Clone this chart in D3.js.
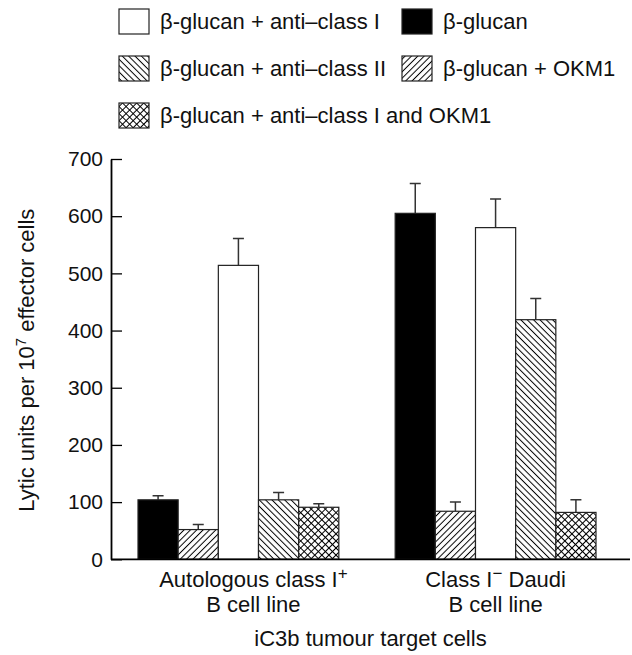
<!DOCTYPE html>
<html>
<head>
<meta charset="utf-8">
<script src="https://cdn.jsdelivr.net/npm/d3@7"></script>
<style>
  body { margin: 0; background: #fff; }
  svg { display: block; }
</style>
</head>
<body>
<svg id="chart" width="632" height="655"></svg>
<script>
////////// Data //////////
const groups = ['autologous', 'daudi'];
const series = ['glucan', 'okm1', 'antiClassI', 'antiClassII', 'antiClassIandOkm1'];
const seriesNames = {
	glucan: 'β-glucan',
	okm1: 'β-glucan + OKM1',
	antiClassI: 'β-glucan + anti–class I',
	antiClassII: 'β-glucan + anti–class II',
	antiClassIandOkm1: 'β-glucan + anti–class I and OKM1'
};
const autologousValues = [104, 52, 514, 104, 91];
const autologousErrors = [7, 9, 47, 13, 6];
const daudiValues = [605, 84, 580, 419, 82];
const daudiErrors = [52, 16, 50, 37, 22];
const yTicks = [0, 100, 200, 300, 400, 500, 600, 700];
// legend reading order: row by row
const legendOrder = ['antiClassI', 'glucan', 'antiClassII', 'okm1', 'antiClassIandOkm1'];

////////// Layout //////////
const font = '"Liberation Sans", Arial, Helvetica, sans-serif';
const plotLeft = 111, plotRight = 630, plotTop = 159, plotBottom = 559.3;
const tickLength = 11;
const capWidth = 11;
const textSize = 22;

const svg = d3.select('#chart');
const defs = svg.append('defs');

// single hatch pattern: vertical line rotated
const hatch = (id, angle, spacing) => {
	const p = defs.append('pattern')
		.attr('id', id)
		.attr('patternUnits', 'userSpaceOnUse')
		.attr('width', spacing)
		.attr('height', spacing)
		.attr('patternTransform', `rotate(${angle})`);
	p.append('rect').attr('width', spacing).attr('height', spacing).attr('fill', '#fff');
	p.append('line')
		.attr('x1', spacing / 2).attr('x2', spacing / 2)
		.attr('y1', 0).attr('y2', spacing)
		.attr('stroke', '#000').attr('stroke-width', 1);
};
hatch('hatchFwd', 45, 4.5);
hatch('hatchBack', -45, 4.5);

// crosshatch
const cross = defs.append('pattern')
	.attr('id', 'hatchCross')
	.attr('patternUnits', 'userSpaceOnUse')
	.attr('width', 5).attr('height', 5)
	.attr('patternTransform', 'rotate(45)');
cross.append('rect').attr('width', 5).attr('height', 5).attr('fill', '#fff');
cross.append('line').attr('x1', 2.5).attr('x2', 2.5).attr('y1', 0).attr('y2', 5)
	.attr('stroke', '#000').attr('stroke-width', 1);
cross.append('line').attr('y1', 2.5).attr('y2', 2.5).attr('x1', 0).attr('x2', 5)
	.attr('stroke', '#000').attr('stroke-width', 1);

const fills = {
	glucan: '#000',
	okm1: 'url(#hatchFwd)',
	antiClassI: '#fff',
	antiClassII: 'url(#hatchBack)',
	antiClassIandOkm1: 'url(#hatchCross)'
};

////////// Scales //////////
const y = d3.scaleLinear().domain([0, 700]).range([plotBottom, plotTop]);
const x0 = d3.scaleBand().domain(groups).range([plotLeft, 623]).paddingInner(0.219).paddingOuter(0.105);
const x1 = d3.scaleBand().domain(series).range([0, x0.bandwidth()]);

const rows = groups.map((g, gi) => ({
	group: g,
	bars: series.map((s, si) => ({
		series: s,
		value: gi === 0 ? autologousValues[si] : daudiValues[si],
		err: gi === 0 ? autologousErrors[si] : daudiErrors[si]
	}))
}));

////////// Bars //////////
const groupSel = svg.selectAll('.group')
	.data(rows)
	.enter().append('g')
		.attr('class', 'group')
		.attr('transform', d => `translate(${x0(d.group)},0)`);

// error bars (behind bars)
groupSel.selectAll('.err')
	.data(d => d.bars)
	.enter().append('path')
		.attr('class', 'err')
		.attr('d', d => {
			const cx = x1(d.series) + x1.bandwidth() / 2;
			return `M${cx},${y(d.value)}V${y(d.value + d.err)}M${cx - capWidth / 2},${y(d.value + d.err)}H${cx + capWidth / 2}`;
		})
		.attr('fill', 'none')
		.attr('stroke', '#333')
		.attr('stroke-width', 1.5);

groupSel.selectAll('.bar')
	.data(d => d.bars)
	.enter().append('rect')
		.attr('class', 'bar')
		.attr('x', d => x1(d.series))
		.attr('y', d => y(d.value))
		.attr('width', x1.bandwidth())
		.attr('height', d => y(0) - y(d.value))
		.attr('fill', d => fills[d.series])
		.attr('stroke', '#222')
		.attr('stroke-width', 1.2);

////////// Axes //////////
const yAxis = svg.append('g')
	.attr('transform', `translate(${plotLeft},0)`)
	.call(d3.axisLeft(y).tickValues(yTicks).tickSizeInner(-tickLength).tickSizeOuter(0).tickPadding(8));
yAxis.select('.domain').attr('stroke', '#000').attr('stroke-width', 1.8);
yAxis.selectAll('.tick line').attr('stroke', '#000').attr('stroke-width', 1.3);
yAxis.selectAll('.tick text')
	.style('font', `21px ${font}`)
	.attr('fill', '#111');

// baseline
svg.append('line')
	.attr('x1', plotLeft).attr('x2', plotRight)
	.attr('y1', y(0)).attr('y2', y(0))
	.attr('stroke', '#000').attr('stroke-width', 1.8);

// y axis title
const yTitle = svg.append('text')
	.attr('transform', `translate(34,${(plotTop + plotBottom) / 2 + 1}) rotate(-90)`)
	.attr('text-anchor', 'middle')
	.style('font', `${textSize}px ${font}`)
	.attr('fill', '#111');
yTitle.append('tspan').text('Lytic units per 10');
yTitle.append('tspan').attr('dy', -8).style('font-size', '15px').text('7');
yTitle.append('tspan').attr('dy', 8).text(' effector cells');

// category labels
const catLabels = [
	{ line1: ['Autologous class I', '+'], line2: 'B cell line', dx: 15 },
	{ line1: ['Class I', '−', ' Daudi'], line2: 'B cell line', dx: 0 }
];
catLabels.forEach((lab, i) => {
	const cx = x0(groups[i]) + x0.bandwidth() / 2 + lab.dx;
	const t1 = svg.append('text')
		.attr('x', cx).attr('y', 587)
		.attr('text-anchor', 'middle')
		.style('font', `${textSize}px ${font}`)
		.attr('fill', '#111');
	t1.append('tspan').text(lab.line1[0]);
	t1.append('tspan').attr('dy', -8).style('font-size', '17px').text(lab.line1[1]);
	if (lab.line1[2]) t1.append('tspan').attr('dy', 8).text(lab.line1[2]);
	svg.append('text')
		.attr('x', cx).attr('y', 612)
		.attr('text-anchor', 'middle')
		.style('font', `${textSize}px ${font}`)
		.attr('fill', '#111')
		.text(lab.line2);
});

svg.append('text')
	.attr('x', (plotLeft + plotRight) / 2).attr('y', 646)
	.attr('text-anchor', 'middle')
	.style('font', `${textSize}px ${font}`)
	.attr('fill', '#111')
	.text('iC3b tumour target cells');

////////// Legend //////////
const legendCols = [119, 402];
const legendRowY = [9, 56, 103];
const legend = svg.selectAll('.legendItem')
	.data(legendOrder)
	.enter().append('g')
		.attr('class', 'legendItem')
		.attr('transform', (d, i) => `translate(${legendCols[i % 2]},${legendRowY[Math.floor(i / 2)]})`);
legend.append('rect')
	.attr('width', 30).attr('height', 25)
	.attr('fill', d => fills[d])
	.attr('stroke', '#222').attr('stroke-width', 1.2);
legend.append('text')
	.attr('x', 41).attr('y', 20)
	.style('font', `${textSize}px ${font}`)
	.attr('fill', '#111')
	.text(d => seriesNames[d]);
</script>
</body>
</html>
